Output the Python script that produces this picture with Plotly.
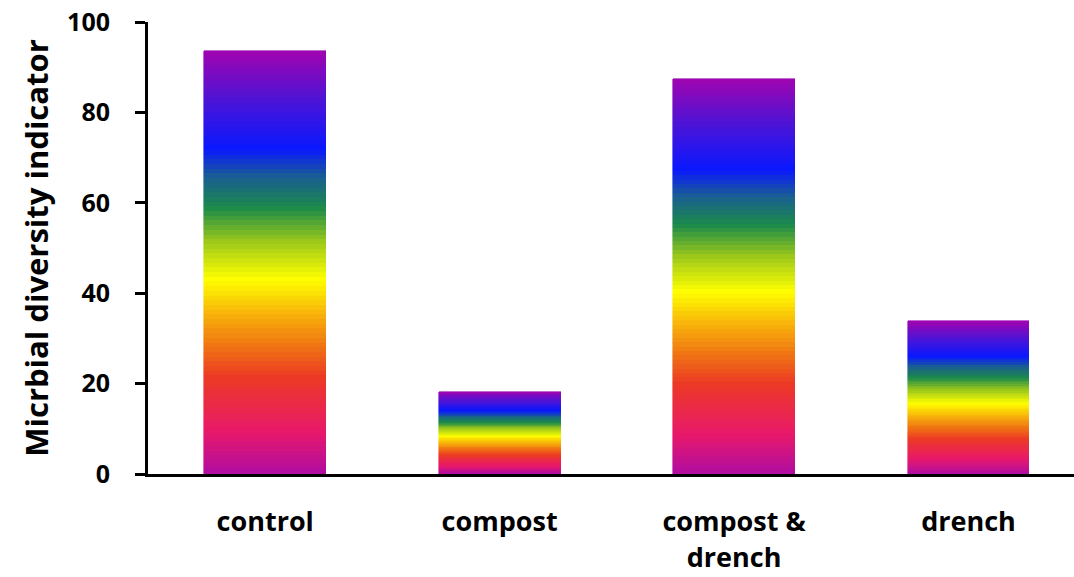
import plotly.graph_objects as go
from plotly.colors import sample_colorscale

# Treatments and their microbial diversity indicator values
categories = ["control", "compost", "compost &<br>drench", "drench"]
values = [93.5, 18.2, 87.5, 33.8]

y_ticks = [0, 20, 40, 60, 80, 100]

# Rainbow fill running from the bottom of each bar to its top
rainbow = [
    [0.00, "#b00ca2"],
    [0.10, "#e8196a"],
    [0.23, "#ec3a24"],
    [0.31, "#f07a12"],
    [0.38, "#f8b40a"],
    [0.46, "#ffff00"],
    [0.55, "#9cc81a"],
    [0.63, "#1b8a4a"],
    [0.70, "#1a6090"],
    [0.77, "#0a18ff"],
    [0.88, "#4a14d8"],
    [1.00, "#a004b0"],
]

n_slices = 90
slice_colors = sample_colorscale(rainbow, [(i + 0.5) / n_slices for i in range(n_slices)])

fig = go.Figure()
for i in range(n_slices):
    fig.add_trace(go.Bar(
        x=categories,
        y=[v / n_slices for v in values],
        marker=dict(color=slice_colors[i], line=dict(width=0.6, color=slice_colors[i])),
        width=0.52,
        showlegend=False,
        hoverinfo="skip",
    ))

font_family = "'Open Sans', Lato, sans-serif"

fig.update_layout(
    barmode="stack",
    bargap=0,
    width=1074,
    height=577,
    margin=dict(l=148, r=0, t=22, b=103),
    plot_bgcolor="white",
    paper_bgcolor="white",
    font=dict(family=font_family, size=25, color="black"),
    xaxis=dict(
        range=[-0.5, 3.45],
        showline=True,
        linecolor="black",
        linewidth=3,
        ticks="",
        ticklabelstandoff=22,
        tickfont=dict(family=font_family, size=27, color="black", weight="bold"),
        showgrid=False,
        zeroline=False,
    ),
    yaxis=dict(
        range=[0, 100],
        tickvals=y_ticks,
        showline=True,
        linecolor="black",
        linewidth=3,
        ticks="outside",
        ticklen=10,
        tickwidth=3,
        tickcolor="black",
        ticklabelstandoff=20,
        tickfont=dict(family=font_family, size=25, color="black", weight="bold"),
        showgrid=False,
        zeroline=False,
        title=dict(
            text="Micrbial diversity indicator",
            font=dict(family=font_family, size=31, color="black", weight="bold"),
            standoff=10,
        ),
    ),
)

fig.write_html("out.html")
